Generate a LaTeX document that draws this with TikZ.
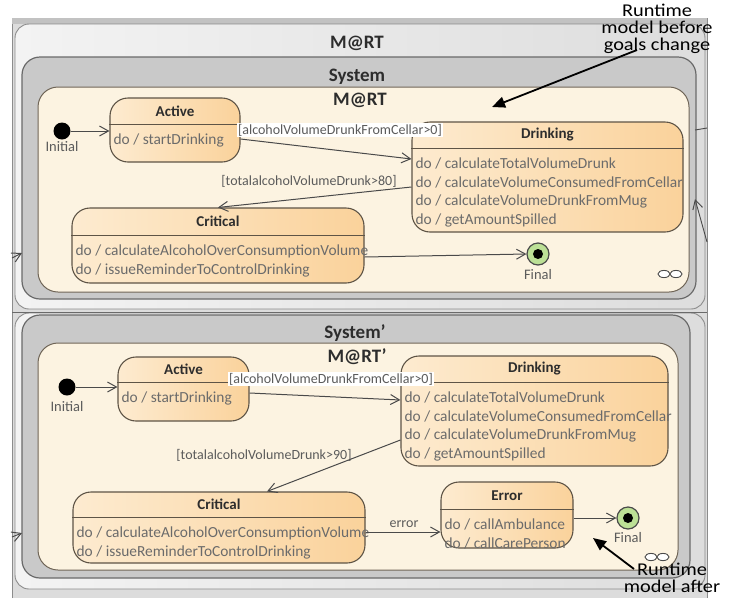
\documentclass[tikz,border=0pt]{standalone}
\usepackage{fontspec}
\setmainfont{Carlito}
\usetikzlibrary{arrows.meta,calc}

\definecolor{canvasgray}{HTML}{DCDCDC}
\definecolor{bandgray}{HTML}{C2C2C2}
\definecolor{frameline}{HTML}{8C8C8C}
\definecolor{framelight}{HTML}{F3F3F3}
\definecolor{framedark}{HTML}{DDDDDD}
\definecolor{sysfill}{HTML}{C9C9C9}
\definecolor{sysline}{HTML}{6A6A6A}
\definecolor{cream}{HTML}{FCF3E1}
\definecolor{creamline}{HTML}{6F6557}
\definecolor{stlight}{HTML}{FDEBD0}
\definecolor{stdark}{HTML}{FAD29B}
\definecolor{stline}{HTML}{5E5446}
\definecolor{bodytext}{HTML}{6B6B6B}
\definecolor{titletext}{HTML}{2D2D2D}
\definecolor{edgegray}{HTML}{4A4A4A}
\definecolor{finalgreen}{HTML}{BCE096}

\tikzset{
  outerframe/.style={draw=frameline, line width=0.9pt, rounded corners=14pt,
    left color=framelight, right color=framedark},
  sysframe/.style={draw=sysline, fill=sysfill, line width=1.2pt, rounded corners=18pt},
  creamframe/.style={draw=creamline, fill=cream, line width=1pt, rounded corners=20pt},
  framelabel/.style={font=\fontsize{19}{20}\selectfont\bfseries, text=titletext, inner sep=0pt},
  statebox/.style={draw=stline, line width=1.1pt, rounded corners=18pt,
    left color=stlight, right color=stdark, inner sep=0pt},
  stateline/.style={draw=stline, line width=1pt},
  statetitle/.style={font=\fontsize{15}{16}\selectfont\bfseries, text=titletext, inner sep=0pt},
  statebody/.style={font=\fontsize{15.4}{18.4}\selectfont, text=bodytext, align=left, inner sep=0pt},
  initst/.style={circle, fill=black, minimum size=17pt, inner sep=0pt},
  finalst/.style={circle, draw=edgegray, line width=1.2pt, fill=finalgreen,
    minimum size=22pt, inner sep=0pt,
    path picture={\fill[black] (path picture bounding box.center) circle (5pt);}},
  pseudolbl/.style={font=\fontsize{14.5}{16}\selectfont, text=bodytext!85!black, inner sep=0pt},
  trans/.style={draw=edgegray, line width=1pt,
    -{Straight Barb[length=9pt,width=10pt,line width=1pt]}},
  guard/.style={font=\fontsize{14}{16}\selectfont, text=bodytext!85!black, inner sep=1pt},
  guardwhite/.style={guard, fill=white},
  note/.style={font=\fontsize{18}{17}\selectfont, text=black, align=center,
    inner sep=0pt, xscale=1.13},
  notearrow/.style={draw=black, line width=1.8pt, -{Triangle[length=13pt,width=11pt]}},
  infinity/.style={draw=edgegray, fill=white, line width=0.9pt}
}

% state with a title compartment and a body compartment
% #1 name, #2/#3 centre, #4 width, #5 height, #6 title height, #7 title, #8 body lines
\newcommand\umlstate[8]{%
  \node[statebox, minimum width=#4pt, minimum height=#5pt] (#1) at (#2,#3) {};
  \draw[stateline] ($(#1.north west)+(0,#6)$) -- ($(#1.north east)+(0,#6)$);
  \node[statetitle] (#1-title) at ($(#1.north)+(0,#6/2)$) {#7};
  \node[statebody, anchor=north west] (#1-body) at ($(#1.north west)+(4,#6+9.5)$) {#8};
}

\begin{document}
\begin{tikzpicture}[x=1pt,y=-1pt]
\useasboundingbox (0,0) rectangle (745,598);
\clip (0,0) rectangle (745,598);

% canvas behind the two runtime models
\fill[canvasgray] (12,18) rectangle (707,598);
\draw[frameline, line width=0.8pt] (12,598) -- (12,18) -- (707,18) -- (707,598);
\fill[bandgray] (12,18) rectangle (707,24);

% ---------------- upper model ----------------
\draw[outerframe] (15,24) rectangle (705,309);
\node[framelabel] (mart-outer) at (357,43) {M@RT};
\draw[sysframe] (22,57) rectangle (696,299);
\node[framelabel] (system) at (357,77) {System};
\draw[creamframe] (38,87) rectangle (689,292);
\node[framelabel] (mart) at (360,100) {M@RT};

\node[initst] (init1) at (62,131) {};
\node[pseudolbl] (init1-lbl) at (62,147) {Initial};

\umlstate{active1}{175}{130}{130}{64}{27}{Active}{do / startDrinking}
\umlstate{drinking1}{547.5}{177}{271}{110}{27}{Drinking}{do / calculateTotalVolumeDrunk\\do / calculateVolumeConsumedFromCellar\\do / calculateVolumeDrunkFromMug\\do / getAmountSpilled}
\umlstate{critical1}{218}{245.5}{292}{75}{28}{Critical}{do / calculateAlcoholOverConsumptionVolume\\do / issueReminderToControlDrinking}

\node[finalst] (final1) at (538,254) {};
\node[pseudolbl] (final1-lbl) at (538,275) {Final};

\draw[trans] (init1.east) -- (init1.east -| active1.west);
\draw[trans] ($(active1.east)+(0,9)$) -- ($(drinking1.west)+(0,-18)$);
\node[guardwhite] (guard1) at (340,130) {[alcoholVolumeDrunkFromCellar>0]};
\draw[trans] ($(drinking1.west)+(0,10)$) -- (critical1.north);
\node[guard] (guard2) at (309,181) {[totalalcoholVolumeDrunk>80]};
\draw[trans] ($(critical1.east)+(0,11.5)$) -- (final1.west);

\draw[infinity] (664,274) ellipse (6pt and 3.6pt);
\draw[infinity] (676,274) ellipse (6pt and 3.6pt);

% transitions crossing the frame border
\coordinate (rin1) at (707,128);
\coordinate (rin1end) at (695,130);
\draw[draw=edgegray, line width=0.9pt] (rin1) -- (rin1end);
\coordinate (rin2) at (707,242);
\coordinate (rin2end) at (695,199);
\draw[trans, line width=0.9pt] (rin2) -- (rin2end);
\coordinate (lin1) at (12,258);
\coordinate (lin1end) at (22,253);
\draw[trans] (lin1) -- (lin1end);

% ---------------- lower model ----------------
\draw[outerframe] (15,313) rectangle (705,589);
\draw[draw=sysline, line width=1pt] (12,312) -- (707,312);
\draw[sysframe] (22,315) rectangle (690,578);
\node[framelabel] (system2) at (355,333) {System’};
\draw[creamframe] (38,343) rectangle (678,570);
\node[framelabel] (mart2) at (357,357) {M@RT’};

\node[initst] (init2) at (67,387) {};
\node[pseudolbl] (init2-lbl) at (67,407) {Initial};

\umlstate{active2}{183.5}{389}{131}{64}{26}{Active}{do / startDrinking}
\umlstate{drinking2}{534.5}{411}{267}{110}{27}{Drinking}{do / calculateTotalVolumeDrunk\\do / calculateVolumeConsumedFromCellar\\do / calculateVolumeDrunkFromMug\\do / getAmountSpilled}
\umlstate{critical2}{219}{527.5}{292}{71}{26}{Critical}{do / calculateAlcoholOverConsumptionVolume\\do / issueReminderToControlDrinking}
\umlstate{error}{507}{515}{132}{66}{28}{Error}{do / callAmbulance\\do / callCarePerson}

\node[finalst] (final2) at (628,518) {};
\node[pseudolbl] (final2-lbl) at (628,538) {Final};

\draw[trans] (init2.east) -- (init2.east -| active2.west);
\draw[trans] ($(active2.east)+(0,4)$) -- ($(drinking2.west)+(0,-11)$);
\node[guardwhite] (guard3) at (331,379) {[alcoholVolumeDrunkFromCellar>0]};
\draw[trans] ($(drinking2.west)+(0,29)$) -- ($(critical2.north)+(48,0)$);
\node[guard] (guard4) at (264,455) {[totalalcoholVolumeDrunk>90]};
\draw[trans] ($(critical2.east)+(0,4.5)$) -- ($(error.west)+(0,17)$);
\node[guard] (guard5) at (404,524) {error};
\draw[trans] ($(error.east)+(0,3)$) -- (final2.west);

\draw[infinity] (651,557) ellipse (6pt and 3.6pt);
\draw[infinity] (663,557) ellipse (6pt and 3.6pt);

\coordinate (lin2) at (12,537);
\coordinate (lin2end) at (22,533);
\draw[trans] (lin2) -- (lin2end);

% ---------------- annotations ----------------
\node[note] (note-before) at (657,29) {Runtime\\model before\\goals change};
\coordinate (nb-tail) at (637,50);
\coordinate (nb-tip) at (492,107);
\draw[notearrow] (nb-tail) -- (nb-tip);

\node[note, anchor=south] (note-after) at (672,593) {Runtime\\model after};
\coordinate (na-tail) at (634,569);
\coordinate (na-tip) at (593,538);
\draw[notearrow] (na-tail) -- (na-tip);
\end{tikzpicture}
\end{document}
